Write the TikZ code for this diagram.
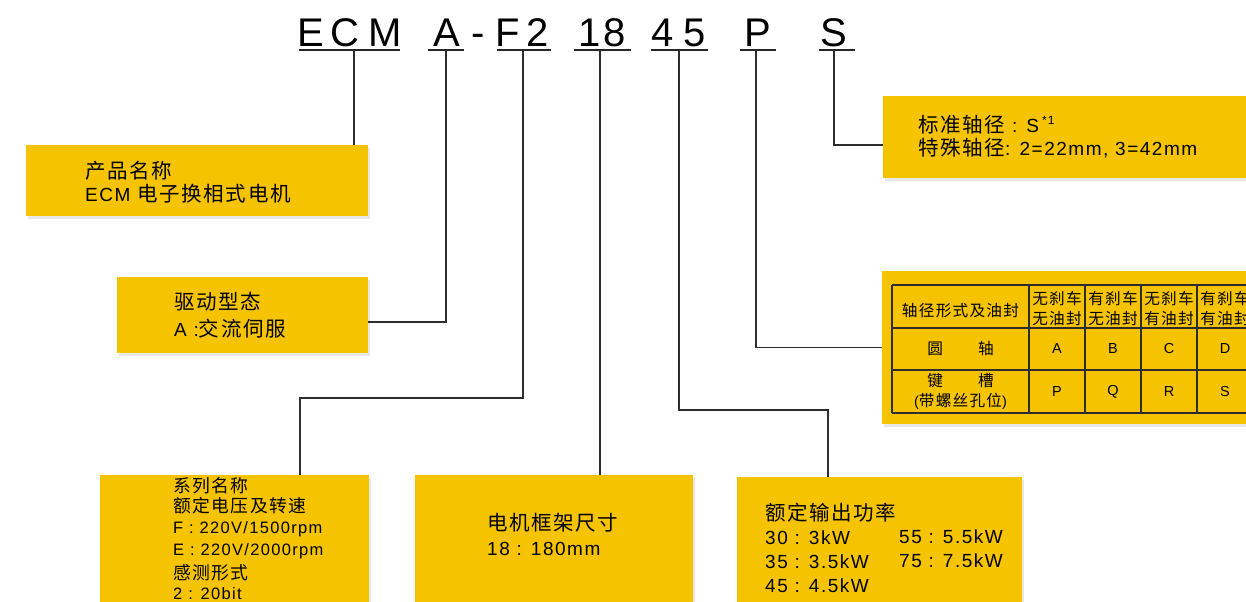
\documentclass[tikz,border=0pt]{standalone}
\usepackage{fontspec}
\setmainfont{Liberation Sans}[LetterSpace=8]
\newfontfamily\cnfont{Noto Sans CJK SC}[Scale=1.08,LetterSpace=8]
\newcommand{\cn}[1]{{\cnfont #1}}
\usetikzlibrary{shapes,shadows,calc}
\definecolor{boxyellow}{RGB}{245,195,0}
\definecolor{linegray}{RGB}{45,45,45}

\begin{document}
\begin{tikzpicture}[
  codechar/.style={anchor=base,inner sep=0pt,font=\fontsize{40bp}{40bp}\selectfont},
  infobox/.style={fill=boxyellow,draw=none,inner sep=0pt,drop shadow={shadow xshift=2bp,shadow yshift=-3bp,opacity=0.18}},
  infotext/.style={anchor=west,inner sep=0pt,font=\fontsize{19bp}{23bp}\selectfont},
  smalltext/.style={anchor=west,inner sep=0pt,font=\fontsize{16.5bp}{19bp}\selectfont},
  celltext/.style={inner sep=0pt,align=center,font=\fontsize{14.5bp}{20bp}\selectfont},
  leader/.style={draw=linegray,line width=1.3bp},
  underbar/.style={draw=black!85,line width=2bp},
  gridline/.style={draw=linegray,line width=1.4bp}]
\path[use as bounding box] (0bp,0bp) rectangle (1246bp,-602bp);
\clip (0bp,0bp) rectangle (1246bp,-602bp);

\node (cE) at (311bp,-46bp)[codechar] {E};
\node (cC) at (345bp,-46bp)[codechar] {C};
\node (cM) at (385bp,-46bp)[codechar] {M};
\node (cA) at (447bp,-46bp)[codechar] {A};
\node (cDash) at (478bp,-46bp)[codechar] {-};
\node (cF) at (508bp,-46bp)[codechar] {F};
\node (cTwo) at (538bp,-46bp)[codechar] {2};
\node (cOne) at (590bp,-46bp)[codechar] {1};
\node (cEight) at (615bp,-46bp)[codechar] {8};
\node (cFour) at (663bp,-46bp)[codechar] {4};
\node (cFive) at (695bp,-46bp)[codechar] {5};
\node (cP) at (758bp,-46bp)[codechar] {P};
\node (cS) at (834bp,-46bp)[codechar] {S};
\foreach \a/\b in {299/400,428/464,497/551,574/631,651/708,740/776,819/855}
  \draw[underbar] (\a bp,-50bp) -- (\b bp,-50bp);

\coordinate (tECM) at (354bp,-50bp);
\coordinate (tA) at (446bp,-50bp);
\coordinate (tF) at (523bp,-50bp);
\coordinate (tN) at (600bp,-50bp);
\coordinate (tK) at (679bp,-50bp);
\coordinate (tP) at (756bp,-50bp);
\coordinate (tS) at (834bp,-50bp);

\node (prod) at (197bp,-180.5bp)[infobox,minimum width=342bp,minimum height=71bp] {};
\node (drive) at (242.5bp,-315bp)[infobox,minimum width=251bp,minimum height=76bp] {};
\node (series) at (234.5bp,-552.5bp)[infobox,minimum width=269bp,minimum height=155bp] {};
\node (frame) at (554bp,-552.5bp)[infobox,minimum width=278bp,minimum height=155bp] {};
\node (power) at (879.5bp,-553.5bp)[infobox,minimum width=285bp,minimum height=153bp] {};
\node (shaft) at (1071.5bp,-137bp)[infobox,minimum width=377bp,minimum height=82bp] {};
\node (seal) at (1071bp,-347.5bp)[infobox,minimum width=378bp,minimum height=153bp] {};

\draw[leader] (tECM) -- (tECM |- prod.north);
\draw[leader] (tA) |- ([yshift=-7bp]drive.east);
\draw[leader] (tF) -- ++(0,-348bp) -| ([xshift=65.5bp]series.north);
\draw[leader] (tN) -- (tN |- frame.north);
\draw[leader] (tK) -- ++(0,-360bp) -| ([xshift=-51.5bp]power.north);
\draw[leader] (tP) |- (seal.west);
\draw[leader] (tS) |- ([yshift=-8bp]shaft.west);

\node (prodA) at (85bp,-171bp)[infotext] {\cn{产品名称}};
\node (prodB) at (85bp,-194bp)[infotext] {ECM \cn{电子换相式电机}};
\node (driveA) at (174bp,-302bp)[infotext] {\cn{驱动型态}};
\node (driveB) at (174bp,-329bp)[infotext] {A :\cn{交流伺服}};
\node (seriesA) at (173bp,-486bp)[smalltext] {\cn{系列名称}};
\node (seriesB) at (173bp,-506bp)[smalltext] {\cn{额定电压及转速}};
\node (seriesC) at (173bp,-529bp)[smalltext] {F : 220V/1500rpm};
\node (seriesD) at (173bp,-551bp)[smalltext] {E : 220V/2000rpm};
\node (seriesE) at (173bp,-573bp)[smalltext] {\cn{感测形式}};
\node (seriesF) at (173bp,-594bp)[smalltext] {2 : 20bit};
\node (frameA) at (487bp,-523bp)[infotext] {\cn{电机框架尺寸}};
\node (frameB) at (487bp,-549bp)[infotext] {18 : 180mm};
\node (powerA) at (765bp,-513bp)[infotext] {\cn{额定输出功率}};
\node (powerB) at (765bp,-538bp)[infotext] {30 : 3kW};
\node (powerC) at (765bp,-562bp)[infotext] {35 : 3.5kW};
\node (powerD) at (765bp,-586bp)[infotext] {45 : 4.5kW};
\node (powerE) at (899bp,-537bp)[infotext] {55 : 5.5kW};
\node (powerF) at (899bp,-561bp)[infotext] {75 : 7.5kW};
\node (shaftA) at (918bp,-125bp)[infotext] {\cn{标准轴径} : S\,\raisebox{8bp}{\fontsize{12bp}{12bp}\selectfont *1}};
\node (shaftB) at (918bp,-148bp)[infotext] {\cn{特殊轴径}: 2=22mm, 3=42mm};

\foreach \yy in {285,328,370,413}
  \draw[gridline] (892bp,-\yy bp) -- (1260bp,-\yy bp);
\foreach \xx in {892,1029,1085,1141,1197,1253}
  \draw[gridline] (\xx bp,-285bp) -- (\xx bp,-413bp);
\node (hdType) at (960.5bp,-311bp)[celltext] {\cn{轴径形式及油封}};
\node (hdRound) at (960.5bp,-349bp)[celltext] {\cn{圆　　轴}};
\node (hdKey) at (960.5bp,-391.5bp)[celltext] {\cn{键　　槽}\\(\cn{带螺丝孔位})};
\foreach \cx/\brk/\oil/\rnd/\kwy in {1057/无刹车/无油封/A/P,1113/有刹车/无油封/B/Q,1169/无刹车/有油封/C/R,1225/有刹车/有油封/D/S}{
  \node (brk\cx) at (\cx bp,-299bp)[celltext] {\cn{\brk}};
  \node (oil\cx) at (\cx bp,-319bp)[celltext] {\cn{\oil}};
  \node (rnd\cx) at (\cx bp,-349bp)[celltext] {\rnd};
  \node (kwy\cx) at (\cx bp,-392bp)[celltext] {\kwy};
}
\end{tikzpicture}
\end{document}
